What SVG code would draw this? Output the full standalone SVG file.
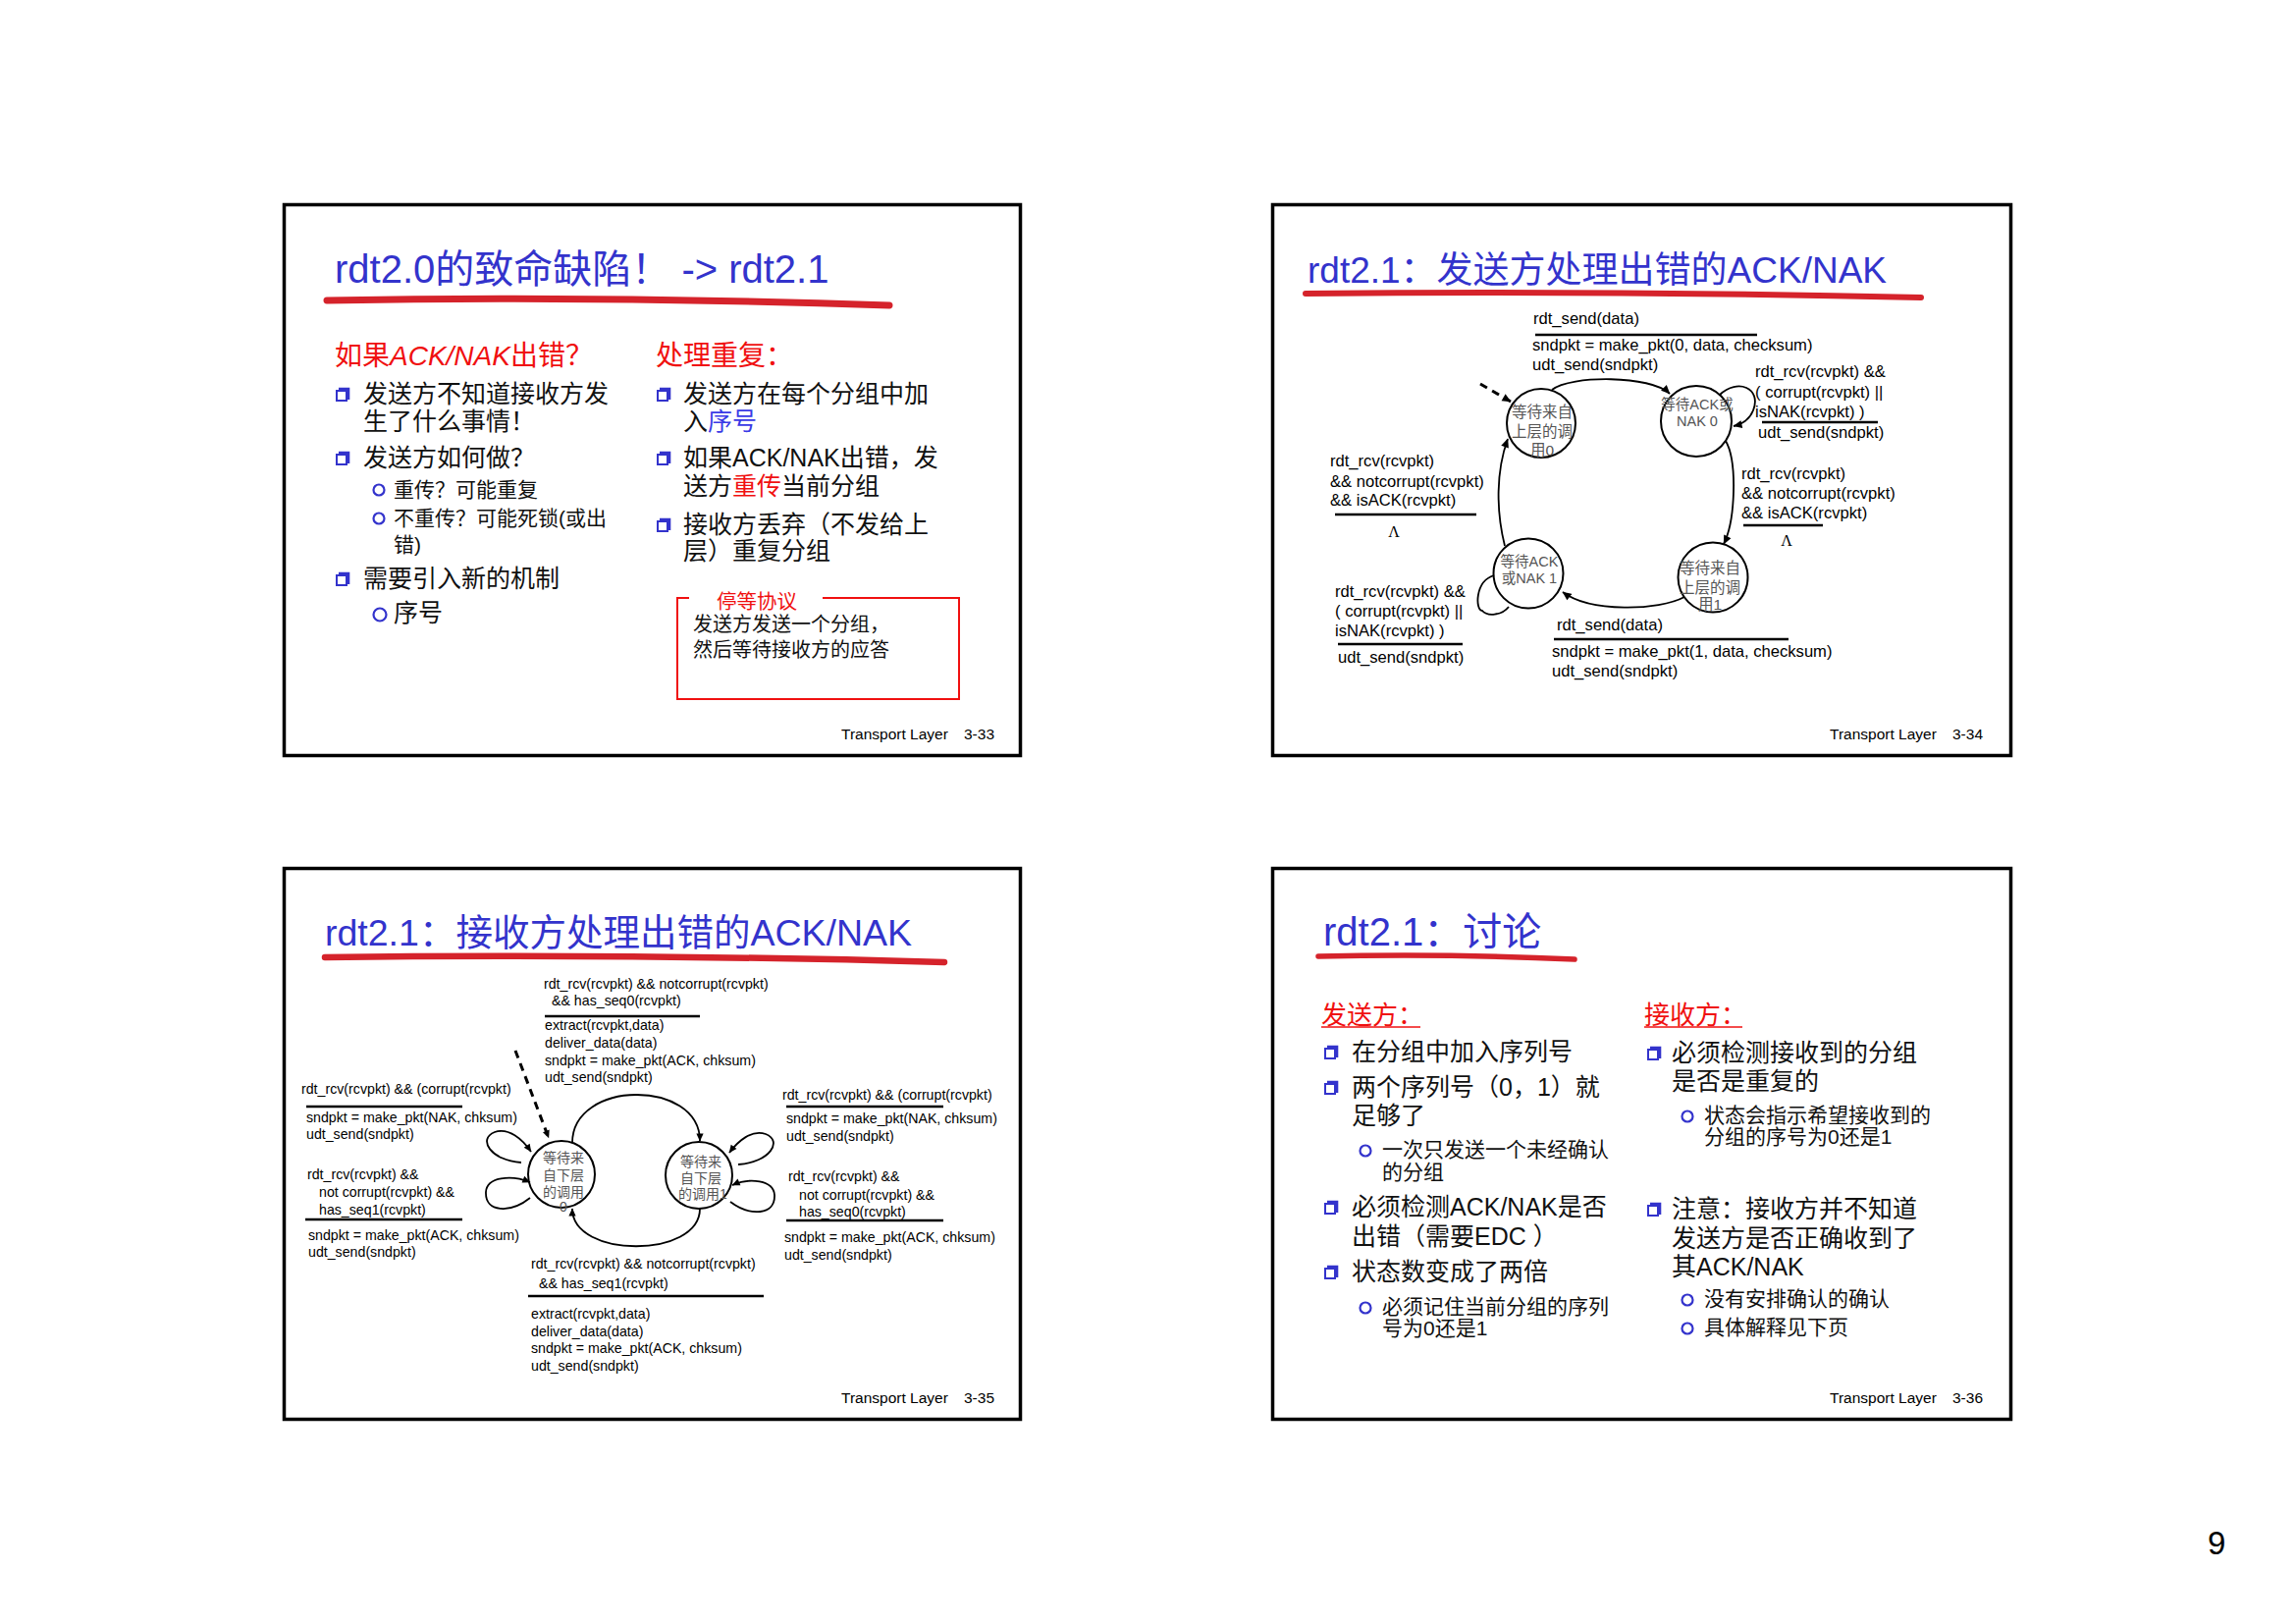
<svg xmlns="http://www.w3.org/2000/svg" width="2339" height="1654" viewBox="0 0 2339 1654">
<style>
text{font-family:"Liberation Sans","Noto Sans CJK SC",sans-serif}
.frame{fill:#fff;stroke:#000;stroke-width:3.5}
.brush{fill:none;stroke:#d5232b;stroke-linecap:round}
.ttl{fill:#3333cc}
.red{fill:#f01010}
.hd{fill:#f01010;font-size:28px}
.b{font-size:25px;fill:#111}
.s{font-size:21px;fill:#111}
.bs{fill:#fff;stroke:#3333cc;stroke-width:2}
.bsh{fill:none;stroke:#3333cc;stroke-width:2.6}
.ci{fill:none;stroke:#3333cc;stroke-width:2.2}
.foot{font-size:15.5px;fill:#000}
.f2{font-size:16.6px;fill:#000}
.f3{font-size:14.2px;fill:#000}
.rule{stroke:#000;stroke-width:2.6}
.st{fill:none;stroke:#000;stroke-width:2}
.stt{fill:#555;text-anchor:middle}
.conn path{fill:none;stroke:#000;stroke-width:1.8}
.conn path.dash{stroke-width:3;stroke-dasharray:8 6}
.lam{font-family:"Liberation Serif",serif;font-size:16px;text-anchor:middle;fill:#000}
.redline{stroke:#f01010;stroke-width:1.6}
</style>
<defs>
  <!-- hollow square bullet with offset edge -->
  <g id="bx">
    <path class="bsh" d="M3,1 H13 V12"/>
    <rect class="bs" x="1" y="3" width="10" height="10"/>
  </g>
  <marker id="ah" viewBox="0 0 10 10" refX="9.5" refY="5" markerWidth="10" markerHeight="9" orient="auto" markerUnits="userSpaceOnUse">
    <path d="M0,0.5 L10,5 L0,9.5 Z" fill="#000"/>
  </marker>
  <marker id="ah3" viewBox="0 0 10 10" refX="9.5" refY="5" markerWidth="9" markerHeight="8" orient="auto" markerUnits="userSpaceOnUse">
    <path d="M0,0.5 L10,5 L0,9.5 Z" fill="#000"/>
  </marker>
</defs>

<rect width="2339" height="1654" fill="#fff"/>

<!-- ===== Slide 3-33 ===== -->
<g id="slide-33">
  <rect class="frame" x="289.5" y="208.5" width="750" height="561"/>
  <text class="ttl" x="341" y="288" font-size="40">rdt2.0的致命缺陷！ -&gt; rdt2.1</text>
  <path class="brush" stroke-width="7" d="M333,306 Q620,301 906,311"/>

  <text class="hd" x="341" y="372">如果<tspan font-style="italic">ACK/NAK</tspan>出错？</text>
  <text class="hd" x="668" y="372">处理重复：</text>

  <use href="#bx" x="342" y="395"/>
  <text class="b" x="370" y="410">发送方不知道接收方发</text>
  <text class="b" x="370" y="438">生了什么事情！</text>
  <use href="#bx" x="342" y="460"/>
  <text class="b" x="370" y="475">发送方如何做？</text>
  <circle class="ci" cx="386" cy="499" r="5.5"/>
  <text class="s" x="401" y="506">重传？可能重复</text>
  <circle class="ci" cx="386" cy="528" r="5.5"/>
  <text class="s" x="401" y="535">不重传？可能死锁(或出</text>
  <text class="s" x="401" y="562">错)</text>
  <use href="#bx" x="342" y="583"/>
  <text class="b" x="370" y="598">需要引入新的机制</text>
  <circle class="ci" cx="387" cy="626" r="6.5"/>
  <text class="b" x="401" y="633">序号</text>

  <use href="#bx" x="669" y="395"/>
  <text class="b" x="696" y="410">发送方在每个分组中加</text>
  <text class="b" x="696" y="438">入<tspan fill="#3a3ae6">序号</tspan></text>
  <use href="#bx" x="669" y="460"/>
  <text class="b" x="696" y="475">如果ACK/NAK出错，发</text>
  <text class="b" x="696" y="504">送方<tspan fill="#f01010">重传</tspan>当前分组</text>
  <use href="#bx" x="669" y="528"/>
  <text class="b" x="696" y="543">接收方丢弃（不发给上</text>
  <text class="b" x="696" y="570">层）重复分组</text>

  <g id="stop-and-wait">
    <path d="M702,609 H690 V712 H977 V609 H838" fill="none" stroke="#f01010" stroke-width="2"/>
    <text class="red" x="730" y="620" font-size="20.5">停等协议</text>
    <text x="706" y="643" font-size="20" fill="#111">发送方发送一个分组，</text>
    <text x="706" y="669" font-size="20" fill="#111">然后等待接收方的应答</text>
  </g>

  <text class="foot" x="857" y="753">Transport Layer</text>
  <text class="foot" x="982" y="753">3-33</text>
</g>

<!-- ===== Slide 3-34 : sender FSM ===== -->
<g id="slide-34">
  <rect class="frame" x="1296.5" y="208.5" width="752" height="561"/>
  <text class="ttl" x="1332" y="288" font-size="37">rdt2.1：发送方处理出错的ACK/NAK</text>
  <path class="brush" stroke-width="6" d="M1330,299 Q1640,296 1957,303"/>

  <g id="s-wait-call0">
    <circle class="st" cx="1570" cy="431" r="35"/>
    <text class="stt" x="1571" y="425" font-size="15.5">等待来自</text>
    <text class="stt" x="1571" y="445" font-size="15.5">上层的调</text>
    <text class="stt" x="1571" y="464" font-size="15.5">用0</text>
  </g>
  <g id="s-wait-ack0">
    <circle class="st" cx="1728" cy="429" r="36"/>
    <text class="stt" x="1729" y="417" font-size="14.5">等待ACK或</text>
    <text class="stt" x="1729" y="434" font-size="14.5">NAK 0</text>
  </g>
  <g id="s-wait-ack1">
    <circle class="st" cx="1557" cy="584" r="35.5"/>
    <text class="stt" x="1558" y="577" font-size="14.5">等待ACK</text>
    <text class="stt" x="1558" y="594" font-size="14.5">或NAK 1</text>
  </g>
  <g id="s-wait-call1">
    <circle class="st" cx="1745" cy="588" r="35.5"/>
    <text class="stt" x="1742" y="584" font-size="15.5">等待来自</text>
    <text class="stt" x="1742" y="604" font-size="15.5">上层的调</text>
    <text class="stt" x="1742" y="621" font-size="15.5">用1</text>
  </g>

  <g id="s-labels">
    <text class="f2" x="1562" y="330">rdt_send(data)</text>
    <line class="rule" x1="1564" y1="341" x2="1790" y2="341"/>
    <text class="f2" x="1561" y="357">sndpkt = make_pkt(0, data, checksum)</text>
    <text class="f2" x="1561" y="377">udt_send(sndpkt)</text>

    <text class="f2" x="1788" y="384">rdt_rcv(rcvpkt) &amp;&amp;</text>
    <text class="f2" x="1788" y="405">( corrupt(rcvpkt) ||</text>
    <text class="f2" x="1788" y="425">isNAK(rcvpkt) )</text>
    <line class="rule" x1="1795" y1="430" x2="1913" y2="430"/>
    <text class="f2" x="1791" y="446">udt_send(sndpkt)</text>

    <text class="f2" x="1355" y="475">rdt_rcv(rcvpkt)</text>
    <text class="f2" x="1355" y="496">&amp;&amp; notcorrupt(rcvpkt)</text>
    <text class="f2" x="1355" y="515">&amp;&amp; isACK(rcvpkt)</text>
    <line class="rule" x1="1360" y1="524" x2="1504" y2="524"/>
    <text class="lam" x="1420" y="547">Λ</text>

    <text class="f2" x="1360" y="608">rdt_rcv(rcvpkt) &amp;&amp;</text>
    <text class="f2" x="1360" y="628">( corrupt(rcvpkt) ||</text>
    <text class="f2" x="1360" y="648">isNAK(rcvpkt) )</text>
    <line class="rule" x1="1363" y1="656" x2="1490" y2="656"/>
    <text class="f2" x="1363" y="675">udt_send(sndpkt)</text>

    <text class="f2" x="1774" y="488">rdt_rcv(rcvpkt)</text>
    <text class="f2" x="1774" y="508">&amp;&amp; notcorrupt(rcvpkt)</text>
    <text class="f2" x="1774" y="528">&amp;&amp; isACK(rcvpkt)</text>
    <line class="rule" x1="1776" y1="535" x2="1857" y2="535"/>
    <text class="lam" x="1820" y="556">Λ</text>

    <text class="f2" x="1586" y="642">rdt_send(data)</text>
    <line class="rule" x1="1583" y1="651" x2="1822" y2="651"/>
    <text class="f2" x="1581" y="669">sndpkt = make_pkt(1, data, checksum)</text>
    <text class="f2" x="1581" y="689">udt_send(sndpkt)</text>
  </g>

  <text class="foot" x="1864" y="753">Transport Layer</text>
  <text class="foot" x="1989" y="753">3-34</text>
</g>

<!-- sender FSM transitions -->
<g id="connectors-34" class="conn">
  <path class="dash" d="M1508,391 L1539,409" marker-end="url(#ah)"/>
  <path d="M1581,397 C1600,382 1682,382 1701,401" marker-end="url(#ah)"/>
  <path d="M1752,402 C1770,385 1795,395 1786,418 C1782,428 1775,432 1766,434" marker-end="url(#ah)"/>
  <path d="M1758,449 C1770,470 1768,530 1756,554" marker-end="url(#ah)"/>
  <path d="M1716,608 C1690,622 1620,624 1592,603" marker-end="url(#ah)"/>
  <path d="M1522,586 C1502,592 1503,622 1510,622 C1515,628 1530,627 1537,618"/>
  <path d="M1533,556 C1524,520 1524,480 1536,447" marker-end="url(#ah)"/>
</g>

<!-- ===== Slide 3-35 : receiver FSM ===== -->
<g id="slide-35">
  <rect class="frame" x="289.5" y="884.5" width="750" height="561"/>
  <text class="ttl" x="331" y="963" font-size="37.5">rdt2.1：接收方处理出错的ACK/NAK</text>
  <path class="brush" stroke-width="6.5" d="M331,975 Q645,971 962,980"/>

  <g id="r-wait-below0">
    <circle class="st" cx="572" cy="1196" r="34"/>
    <text class="stt" x="574" y="1184" font-size="14">等待来</text>
    <text class="stt" x="574" y="1202" font-size="14">自下层</text>
    <text class="stt" x="574" y="1219" font-size="14">的调用</text>
    <text class="stt" x="574" y="1234" font-size="14">0</text>
  </g>
  <g id="r-wait-below1">
    <circle class="st" cx="712" cy="1197" r="34"/>
    <text class="stt" x="714" y="1188" font-size="14">等待来</text>
    <text class="stt" x="714" y="1205" font-size="14">自下层</text>
    <text class="stt" x="716" y="1221" font-size="14">的调用1</text>
  </g>

  <g id="r-labels">
    <text class="f3" x="554" y="1007">rdt_rcv(rcvpkt) &amp;&amp; notcorrupt(rcvpkt)</text>
    <text class="f3" x="562" y="1024">&amp;&amp; has_seq0(rcvpkt)</text>
    <line class="rule" x1="555" y1="1035" x2="713" y2="1035"/>
    <text class="f3" x="555" y="1049">extract(rcvpkt,data)</text>
    <text class="f3" x="555" y="1067">deliver_data(data)</text>
    <text class="f3" x="555" y="1085">sndpkt = make_pkt(ACK, chksum)</text>
    <text class="f3" x="555" y="1102">udt_send(sndpkt)</text>

    <text class="f3" x="307" y="1114">rdt_rcv(rcvpkt) &amp;&amp; (corrupt(rcvpkt)</text>
    <line class="rule" x1="312" y1="1127" x2="471" y2="1127"/>
    <text class="f3" x="312" y="1143">sndpkt = make_pkt(NAK, chksum)</text>
    <text class="f3" x="312" y="1160">udt_send(sndpkt)</text>

    <text class="f3" x="797" y="1120">rdt_rcv(rcvpkt) &amp;&amp; (corrupt(rcvpkt)</text>
    <line class="rule" x1="801" y1="1127" x2="961" y2="1127"/>
    <text class="f3" x="801" y="1144">sndpkt = make_pkt(NAK, chksum)</text>
    <text class="f3" x="801" y="1162">udt_send(sndpkt)</text>

    <text class="f3" x="313" y="1201">rdt_rcv(rcvpkt) &amp;&amp;</text>
    <text class="f3" x="325" y="1219">not corrupt(rcvpkt) &amp;&amp;</text>
    <text class="f3" x="325" y="1237">has_seq1(rcvpkt)</text>
    <line class="rule" x1="311" y1="1242" x2="471" y2="1242"/>
    <text class="f3" x="314" y="1263">sndpkt = make_pkt(ACK, chksum)</text>
    <text class="f3" x="314" y="1280">udt_send(sndpkt)</text>

    <text class="f3" x="803" y="1203">rdt_rcv(rcvpkt) &amp;&amp;</text>
    <text class="f3" x="814" y="1222">not corrupt(rcvpkt) &amp;&amp;</text>
    <text class="f3" x="814" y="1239">has_seq0(rcvpkt)</text>
    <line class="rule" x1="801" y1="1243" x2="961" y2="1243"/>
    <text class="f3" x="799" y="1265">sndpkt = make_pkt(ACK, chksum)</text>
    <text class="f3" x="799" y="1283">udt_send(sndpkt)</text>

    <text class="f3" x="541" y="1292">rdt_rcv(rcvpkt) &amp;&amp; notcorrupt(rcvpkt)</text>
    <text class="f3" x="549" y="1312">&amp;&amp; has_seq1(rcvpkt)</text>
    <line class="rule" x1="538" y1="1320" x2="778" y2="1320"/>
    <text class="f3" x="541" y="1343">extract(rcvpkt,data)</text>
    <text class="f3" x="541" y="1361">deliver_data(data)</text>
    <text class="f3" x="541" y="1378">sndpkt = make_pkt(ACK, chksum)</text>
    <text class="f3" x="541" y="1396">udt_send(sndpkt)</text>
  </g>

  <text class="foot" x="857" y="1429">Transport Layer</text>
  <text class="foot" x="982" y="1429">3-35</text>
</g>

<!-- receiver FSM transitions -->
<g id="connectors-35" class="conn">
  <path class="dash" d="M525,1070 L559,1159" marker-end="url(#ah3)"/>
  <path d="M583,1164 C583,1099 713,1099 713,1162" marker-end="url(#ah3)"/>
  <path d="M713,1231 C713,1282 583,1282 583,1231" marker-end="url(#ah3)"/>
  <path d="M531,1184 C500,1182 486,1160 504,1153 C518,1148 532,1160 541,1173" marker-end="url(#ah3)"/>
  <path d="M540,1220 C520,1236 494,1235 495,1214 C496,1199 520,1196 540,1204" marker-end="url(#ah3)"/>
  <path d="M752,1186 C784,1184 798,1162 780,1155 C766,1150 752,1162 743,1174" marker-end="url(#ah3)"/>
  <path d="M744,1224 C764,1239 790,1238 789,1217 C788,1202 764,1199 746,1207" marker-end="url(#ah3)"/>
</g>

<!-- ===== Slide 3-36 : discussion ===== -->
<g id="slide-36">
  <rect class="frame" x="1296.5" y="884.5" width="752" height="561"/>
  <text class="ttl" x="1348" y="963" font-size="40">rdt2.1：讨论</text>
  <path class="brush" stroke-width="5.5" d="M1343,974 Q1475,971 1604,977"/>

  <text class="red" x="1346" y="1043" font-size="26">发送方：</text>
  <line class="redline" x1="1346" y1="1046" x2="1447" y2="1046"/>
  <text class="red" x="1675" y="1043" font-size="26">接收方：</text>
  <line class="redline" x1="1675" y1="1046" x2="1775" y2="1046"/>

  <use href="#bx" x="1349" y="1065"/>
  <text class="b" x="1377" y="1080">在分组中加入序列号</text>
  <use href="#bx" x="1349" y="1101"/>
  <text class="b" x="1377" y="1116">两个序列号（0，1）就</text>
  <text class="b" x="1377" y="1145">足够了</text>
  <circle class="ci" cx="1391" cy="1172" r="5.5"/>
  <text class="s" x="1408" y="1178">一次只发送一个未经确认</text>
  <text class="s" x="1408" y="1201">的分组</text>
  <use href="#bx" x="1349" y="1223"/>
  <text class="b" x="1377" y="1238">必须检测ACK/NAK是否</text>
  <text class="b" x="1377" y="1268">出错（需要EDC ）</text>
  <use href="#bx" x="1349" y="1289"/>
  <text class="b" x="1377" y="1304">状态数变成了两倍</text>
  <circle class="ci" cx="1391" cy="1332" r="5.5"/>
  <text class="s" x="1408" y="1338">必须记住当前分组的序列</text>
  <text class="s" x="1408" y="1360">号为0还是1</text>

  <use href="#bx" x="1678" y="1066"/>
  <text class="b" x="1703" y="1081">必须检测接收到的分组</text>
  <text class="b" x="1703" y="1110">是否是重复的</text>
  <circle class="ci" cx="1719" cy="1137" r="5.5"/>
  <text class="s" x="1736" y="1143">状态会指示希望接收到的</text>
  <text class="s" x="1736" y="1165">分组的序号为0还是1</text>
  <use href="#bx" x="1678" y="1225"/>
  <text class="b" x="1703" y="1240">注意：接收方并不知道</text>
  <text class="b" x="1703" y="1270">发送方是否正确收到了</text>
  <text class="b" x="1703" y="1299">其ACK/NAK</text>
  <circle class="ci" cx="1719" cy="1324" r="5.5"/>
  <text class="s" x="1736" y="1330">没有安排确认的确认</text>
  <circle class="ci" cx="1719" cy="1353" r="5.5"/>
  <text class="s" x="1736" y="1359">具体解释见下页</text>

  <text class="foot" x="1864" y="1429">Transport Layer</text>
  <text class="foot" x="1989" y="1429">3-36</text>
</g>

<text x="2249" y="1583" font-family="Liberation Serif, serif" font-size="33" fill="#000">9</text>
</svg>
